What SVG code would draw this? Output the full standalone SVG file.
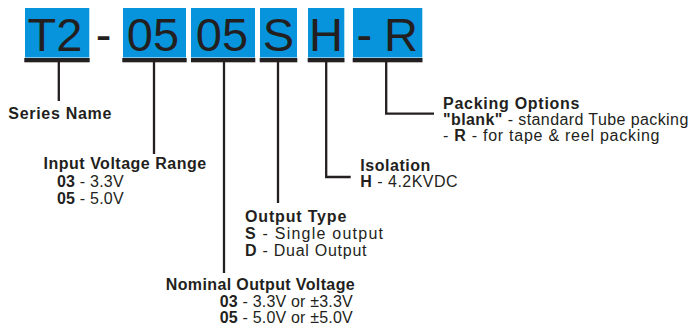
<svg xmlns="http://www.w3.org/2000/svg" width="696" height="334" viewBox="0 0 696 334">
<style>
.box{fill:#0894dc}
.bar{fill:#231f20}
.big{font-family:"Liberation Sans",Arial,sans-serif;font-size:47px;fill:#231f20;text-anchor:middle}
.t{font-family:"Liberation Sans",Arial,sans-serif;font-size:16px;fill:#231f20}
.b{font-weight:bold}
.ln{fill:none;stroke:#231f20;stroke-width:2.3}
</style>
<rect width="696" height="334" fill="#fff"/>
<g id="code">
<rect class="box" x="25" y="8" width="64.3" height="49.5"/>
<rect class="bar" x="24.3" y="58" width="65.4" height="4.3"/>
<text class="big" x="55" y="50.5">T2</text>
<text class="big" x="103.5" y="50.5">-</text>
<rect class="box" x="123" y="8" width="63" height="49.5"/>
<rect class="bar" x="122.3" y="58" width="64.4" height="4.3"/>
<text class="big" x="153" y="50.5">05</text>
<rect class="box" x="191" y="8" width="64" height="49.5"/>
<rect class="bar" x="191" y="58" width="64.3" height="4.3"/>
<text class="big" x="222" y="50.5">05</text>
<rect class="box" x="260" y="8" width="37" height="49.5"/>
<rect class="bar" x="259.7" y="58" width="37.6" height="4.3"/>
<text class="big" x="278.5" y="50.5">S</text>
<rect class="box" x="308" y="8" width="36.3" height="49.5"/>
<rect class="bar" x="307.7" y="58" width="36.8" height="4.3"/>
<text class="big" x="326" y="50.5">H</text>
<rect class="box" x="353" y="8" width="69.3" height="49.5"/>
<rect class="bar" x="352.7" y="58" width="69.8" height="4.3"/>
<text class="big" x="364.3" y="50.5">-</text>
<text class="big" x="401" y="50.5">R</text>
</g>
<g id="connectors">
<path class="ln" d="M58.8 62V101"/>
<path class="ln" d="M154 62V154"/>
<path class="ln" d="M224 62V273"/>
<path class="ln" d="M278 62V203"/>
<path class="ln" d="M326.2 62V177H350.7"/>
<path class="ln" d="M386.2 62V113.7H434"/>
</g>
<g id="series">
<text class="t b" x="8.3" y="119" textLength="103" lengthAdjust="spacing">Series Name</text>
</g>
<g id="input">
<text class="t b" x="43.6" y="169.3" textLength="162.5" lengthAdjust="spacing">Input Voltage Range</text>
<text class="t" x="57" y="186.7" textLength="66.6" lengthAdjust="spacing"><tspan class="b">03</tspan> - 3.3V</text>
<text class="t" x="57" y="204.3" textLength="66.6" lengthAdjust="spacing"><tspan class="b">05</tspan> - 5.0V</text>
</g>
<g id="nominal">
<text class="t b" x="165.7" y="290" textLength="189" lengthAdjust="spacing">Nominal Output Voltage</text>
<text class="t" x="219.7" y="307.3" textLength="133" lengthAdjust="spacing"><tspan class="b">03</tspan> - 3.3V or ±3.3V</text>
<text class="t" x="219.7" y="323.3" textLength="133" lengthAdjust="spacing"><tspan class="b">05</tspan> - 5.0V or ±5.0V</text>
</g>
<g id="output">
<text class="t b" x="245" y="222.3" textLength="101.3" lengthAdjust="spacing">Output Type</text>
<text class="t" x="245" y="239.3" textLength="138" lengthAdjust="spacing"><tspan class="b">S</tspan> - Single output</text>
<text class="t" x="245" y="256" textLength="121.5" lengthAdjust="spacing"><tspan class="b">D</tspan> - Dual Output</text>
</g>
<g id="isolation">
<text class="t b" x="360.3" y="171" textLength="70" lengthAdjust="spacing">Isolation</text>
<text class="t" x="360.3" y="187.3" textLength="97.3" lengthAdjust="spacing"><tspan class="b">H</tspan> - 4.2KVDC</text>
</g>
<g id="packing">
<text class="t b" x="443" y="108.5" textLength="136.5" lengthAdjust="spacing">Packing Options</text>
<text class="t" x="443" y="125" textLength="245.3" lengthAdjust="spacing"><tspan class="b">"blank"</tspan> - standard Tube packing</text>
<text class="t" x="443" y="140.5" textLength="216.5" lengthAdjust="spacing">- <tspan class="b">R</tspan> - for tape &amp; reel packing</text>
</g>
</svg>
